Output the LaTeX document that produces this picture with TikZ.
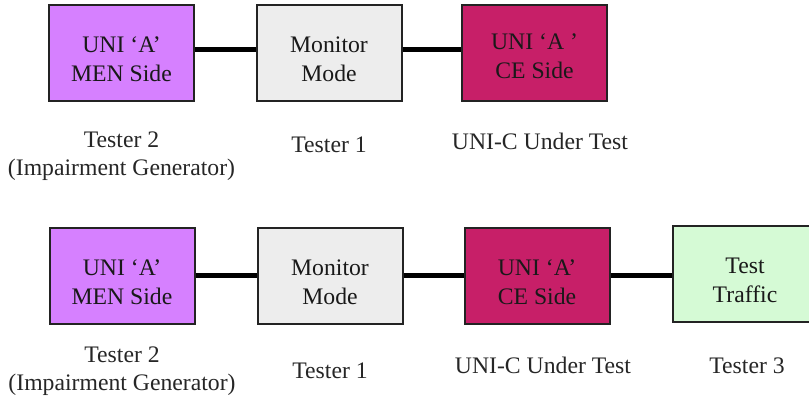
\documentclass[tikz,border=0pt]{standalone}
\usepackage{fontspec}
\setmainfont{Liberation Serif}
\definecolor{menpurple}{RGB}{214,128,255}
\definecolor{mongrey}{RGB}{237,237,237}
\definecolor{cemag}{RGB}{199,31,104}
\definecolor{trafgreen}{RGB}{213,250,213}
\definecolor{boxedge}{RGB}{35,35,35}
\begin{document}
\begin{tikzpicture}[x=1pt,y=-1pt,
  unibox/.style={draw=boxedge, line width=2pt, minimum width=145pt, minimum height=96pt, inner sep=0pt},
  boxtext/.style={font=\fontsize{23.7}{28.5}\selectfont, align=center, inner sep=0pt, text=black!90, yshift=-6.5pt},
  captext/.style={font=\fontsize{23.7}{28}\selectfont, align=center, inner sep=0pt, text=black!85},
  link/.style={line width=5pt, black}]
\useasboundingbox (0,0) rectangle (809,398);
% ---- top row ----
\node[unibox, fill=menpurple] (a1) at (121.5,52.7) {};
\node[unibox, fill=mongrey] (a2) at (329,52.7) {};
\node[unibox, fill=cemag] (a3) at (534.5,52.7) {};
\node[boxtext] (ta1) at (a1.center) {UNI ‘A’\\MEN Side};
\node[boxtext] (ta2) at (a2.center) {Monitor\\Mode};
\node[boxtext, yshift=3pt] (ta3) at (a3.center) {UNI ‘A ’\\CE Side};
\draw[link] ([yshift=2.7pt]a1.east) -- ([yshift=2.7pt]a2.west);
\draw[link] ([yshift=2.7pt]a2.east) -- ([yshift=2.7pt]a3.west);
\node[captext] (ca1) at (121.5,156) {Tester 2\\(Impairment Generator)};
\node[captext, anchor=base] (ca2) at (329,153) {Tester 1};
\node[captext, anchor=base] (ca3) at (540,150) {UNI-C Under Test};
% ---- bottom row ----
\node[unibox, fill=menpurple] (b1) at (122,275.8) {};
\node[unibox, fill=mongrey] (b2) at (330,275.8) {};
\node[unibox, fill=cemag] (b3) at (537,275.8) {};
\node[unibox, fill=trafgreen] (b4) at (745,274) {};
\node[boxtext] (tb1) at (b1.center) {UNI ‘A’\\MEN Side};
\node[boxtext] (tb2) at (b2.center) {Monitor\\Mode};
\node[boxtext] (tb3) at (b3.center) {UNI ‘A’\\CE Side};
\node[boxtext] (tb4) at (b4.center) {Test\\Traffic};
\draw[link] (b1.east) -- (b2.west);
\draw[link] (b2.east) -- (b3.west);
\draw[link] (b3.east) -- (b3.east -| b4.west);
\node[captext] (cb1) at (122,371) {Tester 2\\(Impairment Generator)};
\node[captext, anchor=base] (cb2) at (330,378) {Tester 1};
\node[captext, anchor=base] (cb3) at (543,373) {UNI-C Under Test};
\node[captext, anchor=base] (cb4) at (747,373) {Tester 3};
\end{tikzpicture}
\end{document}
